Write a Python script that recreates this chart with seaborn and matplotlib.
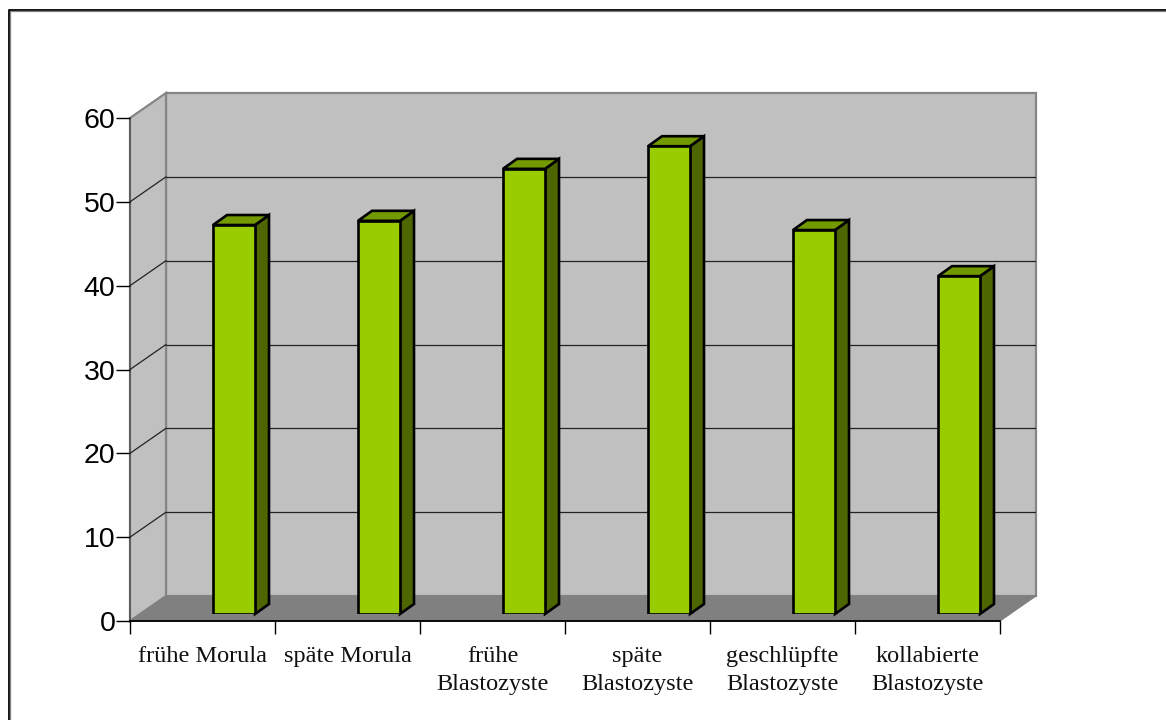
import matplotlib
matplotlib.use("Agg")
import matplotlib.pyplot as plt
from matplotlib.patches import Polygon
from matplotlib.lines import Line2D
import pandas as pd
import seaborn as sns

stages = ["frühe Morula", "späte Morula", "frühe\nBlastozyste", "späte\nBlastozyste",
          "geschlüpfte\nBlastozyste", "kollabierte\nBlastozyste"]
percent = [46.4, 46.9, 53.1, 55.8, 45.8, 40.3]
y_ticks = [0, 10, 20, 30, 40, 50, 60]

W, H = 1166, 720
FRONT, SIDE, TOP = "#99CC00", "#4D6600", "#739900"
WALL, FLOOR, WALL_EDGE = "#C0C0C0", "#808080", "#868686"

# Front plane of the pseudo-3D box, in pixels from the top-left corner
LEFT, RIGHT, BASE, CEIL = 130, 1000, 621, 118
DEPTH_X, DEPTH_Y = 36, 25          # how far the back wall is set off
BAR_DX, BAR_DY = 31.5, 7           # how far the bar plane is set off
BAR_SIDE_X, BAR_SIDE_Y = 14, 10    # visible depth of each bar
BAR_WIDTH = 42

sns.set_theme(style="white")
fig = plt.figure(figsize=(W / 100, H / 100), dpi=100, facecolor="white")


def axes_at(x0, x1, y_bottom, y_top):
    return fig.add_axes([x0 / W, 1 - y_bottom / H, (x1 - x0) / W, (y_bottom - y_top) / H])


# Page layer in pixel coordinates: frame, walls, floor
page = fig.add_axes([0, 0, 1, 1])
page.set_xlim(0, W)
page.set_ylim(H, 0)
page.axis("off")
page.add_line(Line2D([8.5, 8.5, W], [H, 9.5, 9.5], color="black", lw=1.3, zorder=1))
page.add_line(Line2D([9.8, 9.8, W], [H, 10.8, 10.8], color="#808080", lw=0.9, zorder=1))

bx0, bx1 = LEFT + DEPTH_X, RIGHT + DEPTH_X
by0, by1 = BASE - DEPTH_Y, CEIL - DEPTH_Y
page.add_patch(Polygon([(bx0, by1), (bx1, by1), (bx1, by0), (bx0, by0)],
                       fc=WALL, ec=WALL_EDGE, lw=1.6, zorder=2))
page.add_patch(Polygon([(LEFT, CEIL), (bx0, by1), (bx0, by0), (LEFT, BASE)],
                       fc=WALL, ec=WALL_EDGE, lw=1.6, zorder=2))
page.add_patch(Polygon([(LEFT, BASE), (bx0, by0), (bx1, by0), (RIGHT, BASE)],
                       fc=FLOOR, ec=FLOOR, lw=0.8, zorder=3))
page.add_line(Line2D([LEFT, LEFT], [CEIL, BASE], color="#5a5a5a", lw=1.3, zorder=4))

# Value axis along the front-left edge of the box
ax = axes_at(LEFT, RIGHT, BASE, CEIL)
ax.patch.set_alpha(0)
ax.set_xlim(-0.5, len(stages) - 0.5)
ax.set_ylim(0, 60)
ax.set_yticks(y_ticks)
ax.set_xticks([i - 0.5 for i in range(len(stages) + 1)], minor=True)
ax.set_xticks(range(len(stages)))
ax.set_xticklabels(stages, family="Liberation Serif", fontsize=17.5, color="#111111",
                   linespacing=1.42)
ax.set_yticklabels(y_ticks, family="Liberation Sans", fontsize=20.5, color="black")
ax.tick_params(axis="x", which="major", length=0, pad=18)
ax.tick_params(axis="x", which="minor", length=9, width=1, color="black", bottom=True)
ax.tick_params(axis="y", length=10, width=1, color="black", pad=0.5, left=True)
for name in ("top", "right", "left"):
    ax.spines[name].set_visible(False)
ax.spines["bottom"].set_color("black")
ax.spines["bottom"].set_linewidth(1.3)

# Gridlines run along the side wall and across the back wall
back = axes_at(bx0, bx1, by0, by1)
back.patch.set_alpha(0)
back.set_ylim(0, 60)
back.set_xlim(0, 1)
back.axis("off")
for tick in y_ticks[1:-1]:
    back.axhline(tick, color="#222222", lw=0.9)
    y_front = BASE - (BASE - CEIL) * tick / 60
    page.add_line(Line2D([LEFT, bx0], [y_front, y_front - DEPTH_Y], color="#222222", lw=0.9, zorder=4))

# Bars sit on their own plane, set back from the front edge
bars = axes_at(LEFT + BAR_DX, RIGHT + BAR_DX, BASE - BAR_DY, CEIL - BAR_DY)
bars.patch.set_alpha(0)
frame = pd.DataFrame({"stage": stages, "percent": percent})
sns.barplot(data=frame, x="stage", y="percent", ax=bars, color=FRONT, saturation=1,
            width=BAR_WIDTH / ((RIGHT - LEFT) / len(stages)),
            edgecolor="black", linewidth=1.9, zorder=6)
bars.set_xlim(-0.5, len(stages) - 0.5)
bars.set_ylim(0, 60)
bars.axis("off")

# Side and top faces follow the drawn bars
unit_x = (RIGHT - LEFT) / len(stages)
unit_y = (BASE - CEIL) / 60
dx = BAR_SIDE_X / unit_x
dy = BAR_SIDE_Y / unit_y
for rect in bars.patches:
    x0, x1 = rect.get_x(), rect.get_x() + rect.get_width()
    h = rect.get_height()
    bars.add_patch(Polygon([(x1, 0), (x1 + dx, dy), (x1 + dx, h + dy), (x1, h)],
                           fc=SIDE, ec="black", lw=1.9, zorder=5, clip_on=False))
    bars.add_patch(Polygon([(x0, h), (x0 + dx, h + dy), (x1 + dx, h + dy), (x1, h)],
                           fc=TOP, ec="black", lw=1.9, zorder=5, clip_on=False))

fig.savefig("out.png", dpi=100, facecolor="white")
